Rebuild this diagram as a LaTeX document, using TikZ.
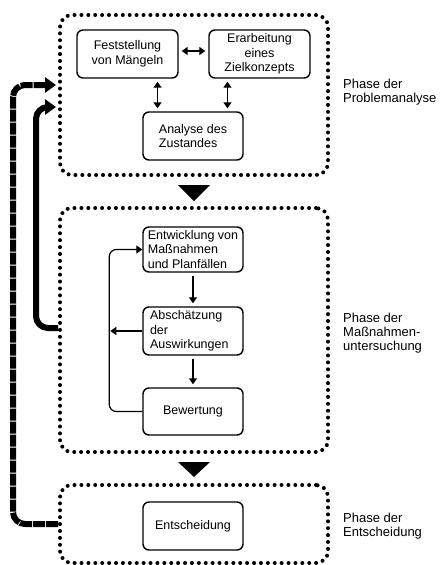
\documentclass[tikz,border=0pt]{standalone}
\usepackage{fontspec}
\setmainfont{Liberation Sans}
\usetikzlibrary{arrows.meta,calc}
\begin{document}
\begin{tikzpicture}[x=1pt,y=-1pt,
  phase/.style={draw,line width=4pt,dash pattern=on 0pt off 6.9pt,line cap=round,rounded corners=12pt,minimum width=268pt,inner sep=0pt},
  box/.style={draw,line width=1.4pt,rounded corners=6pt,minimum width=100pt,inner sep=2pt,font=\fontsize{12.5}{14.5}\selectfont},
  lab/.style={anchor=west,align=left,inner sep=0pt,font=\fontsize{13}{14}\selectfont},
  dbl/.style={line width=1.3pt,{Triangle[width=8pt,length=6pt]}-{Triangle[width=8pt,length=6pt]},shorten <=3pt,shorten >=3pt},
  sarr/.style={line width=1.3pt,-{Triangle[width=8pt,length=6pt]}},
  thick1/.style={line width=6pt,-{Triangle[width=15pt,length=11pt]},rounded corners=12pt},
  tri/.style={fill=black}
]
\useasboundingbox (0,0) rectangle (440,565);
% phase boxes
\node[phase,minimum height=160pt] (top) at (194,95) {};
\node[phase,minimum height=244pt] (mid) at (194,330) {};
\node[phase,minimum height=78pt] (bot) at (194,524) {};
% top boxes
\node[box,minimum width=101pt,minimum height=48pt,align=center] (fest) at (127.5,54) {Feststellung\\von Mängeln};
\node[box,minimum width=101pt,minimum height=48pt,align=center] (erar) at (259.5,54) {Erarbeitung\\eines\\Zielkonzepts};
\node[box,minimum height=48pt,align=left] (ana) at (193,136) {Analyse des\\Zustandes};
% middle boxes
\node[box,minimum height=45pt,align=left,inner sep=1pt] (ent) at (193,249.5) {Entwicklung von\\Maßnahmen\\und Planfällen};
\node[box,minimum height=48pt,align=left,text width=86pt] (abs) at (193,331) {Abschätzung\\der\\Auswirkungen};
\node[box,minimum height=47pt] (bew) at (193,411.5) {Bewertung};
% bottom box
\node[box,minimum height=48pt] (entsch) at (193,526) {Entscheidung};
% labels
\node[lab] (l1) at (343,92) {Phase der\\Problemanalyse};
\node[lab] (l2) at (343,333) {Phase der\\Maßnahmen-\\untersuchung};
\node[lab] (l3) at (343,526) {Phase der\\Entscheidung};
% double arrows in top phase
\draw[dbl] ([yshift=3pt]fest.east) -- ([yshift=3pt]erar.west);
\coordinate (a1) at ($(ana.north west)!0.15!(ana.north east)$);
\coordinate (a2) at ($(ana.north west)!0.84!(ana.north east)$);
\draw[dbl] (a1 |- fest.south) -- (a1);
\draw[dbl] (a2 |- erar.south) -- (a2);
% middle arrows
\draw[sarr,shorten <=3pt,shorten >=3pt] (ent.south) -- (abs.north);
\draw[sarr,shorten <=3pt,shorten >=3pt] (abs.south) -- (bew.north);
\coordinate (fbend) at ($(abs.west)+(-32,0)$);
\draw[sarr] (abs.west) -- (fbend);
\draw[line width=1.2pt,-{Triangle[width=8pt,length=6pt]},rounded corners=7pt] (bew.west) -| ($(ent.west)+(-33,0)$) -- (ent.west);
% triangles
\fill[tri] ($(top.south)+(-16,8)$) -- ($(top.south)+(16,8)$) -- ($(top.south)+(0,24)$) -- cycle;
\fill[tri] ($(mid.south)+(-16,8)$) -- ($(mid.south)+(16,8)$) -- ($(mid.south)+(0,23)$) -- cycle;
% thick feedback lines
\coordinate (tin1) at ($(top.west)+(-2,-10)$);
\coordinate (tin2) at ($(top.west)+(-2,12)$);
\draw[thick1,dash pattern=on 12pt off 1pt] (bot.west) -| ($(tin1)+(-43,0)$) -- (tin1);
\draw[thick1] ($(mid.west)+(0,-2)$) -| ($(tin2)+(-20,0)$) -- (tin2);
\end{tikzpicture}
\end{document}
